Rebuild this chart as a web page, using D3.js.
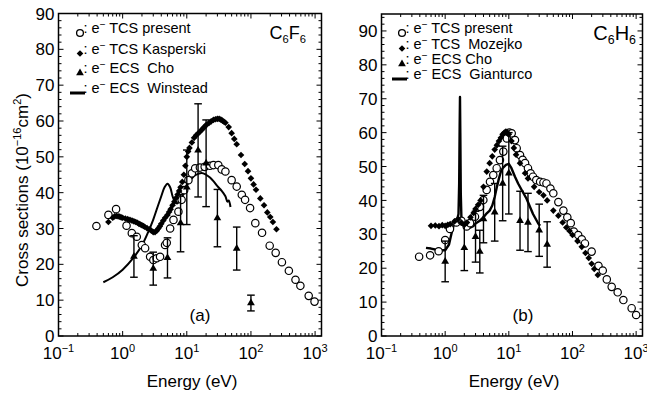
<!DOCTYPE html>
<html><head><meta charset="utf-8">
<script src="https://cdn.jsdelivr.net/npm/d3@7"></script>
<style>body{margin:0;background:#fff}svg{font-family:"Liberation Sans",Arial,Helvetica,sans-serif}text{white-space:pre}</style>
</head><body><svg id="c" width="647" height="394"></svg>
<script>
// ---------- C6F6 (panel a) ----------
const f6PresentE = [0.39,0.60,0.79,1.15,1.39,1.66,1.99,2.24,2.68,3.01,3.39,3.83,4.58,4.87,5.5,6.2,7.4,8.3,9.1,10.6,12,13.5,16,19,23,26,31,35,40,50,60,72,81,97,117,149,196,243,304,390,495,590,795,980];
const f6PresentY = [30.7,33.8,35.4,30.8,28.7,27.7,25.4,24.5,22.1,21.2,21.7,22.1,25.4,26.0,30.0,32.4,34.7,38.0,40.7,43.5,45.4,46.8,47.0,47.2,47.5,47.7,47.7,46.5,45.9,43.5,41.7,39.4,38.0,35.7,31.5,28.8,25.2,23.2,20.6,18.2,15.7,14.0,11.2,9.6];
const f6KasperskiE = [0.6,0.7,0.75,0.8,0.85,0.9,0.95,1.0,1.1,1.2,1.3,1.4,1.5,1.6,1.7,1.8,1.9,2.0,2.1,2.2,2.4,2.6,2.8,3.0,3.2,3.4,3.6,3.8,4.0,4.3,4.6,5.0,5.3,5.6,6.0,6.4,6.8,7.2,7.6,8.0,8.5,9.0,9.5,10,10.5,11,12,13,14,15,16,17,18,19,20,22,24,26,28,30,32,34,36,38,40,45,50,55,60,70,80,90,100,110,120,140,160,180,200,220,250];
const f6KasperskiY = [31.8,33.0,33.4,33.5,33.4,33.3,33.1,33.0,32.8,32.6,32.4,32.2,32.0,31.8,31.6,31.3,31.1,30.9,30.7,30.5,30.1,29.8,29.4,29.0,29.0,29.4,30.0,30.6,31.3,32.2,33.0,33.8,34.6,35.4,36.5,37.5,38.5,39.5,40.5,41.5,43.0,45.0,47.5,50.0,51.5,52.5,54.0,55.3,56.0,56.5,57.0,57.5,58.0,58.4,58.9,59.4,59.9,60.3,60.5,60.6,60.6,60.4,60.1,59.8,59.5,58.3,56.6,55.0,53.5,50.5,48.0,46.0,44.0,42.3,40.8,38.4,36.5,34.5,33.2,31.8,29.8];
const f6ChoE = [1.5,3,5,8,10,15,20,30,60,100];
const f6ChoY = [22.2,18.8,21.8,31.5,41.5,51.8,48.2,32.9,24.4,9.2];
const f6ChoErr = [5.8,4.6,5.6,8.0,10.4,13.0,12.1,8.0,6.0,2.2];
const f6WinsteadE = [0.5,0.7,1.0,1.5,2.0,2.5,3.0,3.5,4.0,4.5,5.0,5.5,6.0,6.5,7,8,9,10,12,14,17,20,23,26,30,35,40,43,45,48];
const f6WinsteadY = [15.0,16.4,18.5,22.0,25.3,29.0,32.5,36.0,39.0,41.5,42.5,41.5,39.0,37.5,37.0,38.0,40.0,42.0,44.0,45.0,45.5,45.0,44.2,43.2,41.8,40.5,39.0,37.5,37.8,36.0];

// ---------- C6H6 (panel b) ----------
const h6PresentE = [0.39,0.58,0.79,1.0,1.19,1.5,1.8,2.18,2.46,2.94,3.52,3.98,4.49,5.06,5.7,6.45,7.25,8.2,9.3,10.2,11.1,12.5,13.3,15,16.5,18,20,22,24,27,31,35,39,45,50,60,72,83,94,105,123,140,157,200,256,299,346,413,513,630,850,1000];
const h6PresentY = [23.4,23.8,25.0,28.3,31.6,33.5,34.0,32.3,33.3,35.2,38.1,40.1,43.1,45.5,47.5,49.5,51.9,54.4,58.3,60.0,59.8,57.8,55.4,53.4,52.0,51.0,49.5,48.0,47.0,46.0,45.5,45.3,45.0,43.5,42.1,39.5,37.0,35.0,33.3,30.8,29.8,28.5,27.3,24.9,20.7,19.3,16.7,14.5,12.9,10.6,8.2,6.2];
const h6MozejkoE = [0.6,0.7,0.8,0.9,1.0,1.1,1.2,1.4,1.6,1.8,2.0,2.2,2.5,2.8,3.0,3.3,3.6,4.0,4.5,5.0,5.5,6.0,6.5,7.0,7.5,8.0,8.5,9.0,9.5,10,11,12,13,15,18,20,25,30,35,40,50,60,70,80,90,100,120,140,160,180,200,220,250];
const h6MozejkoY = [32.5,32.6,32.4,32.7,32.5,32.8,33.0,33.8,34.5,33.5,32.8,33.5,35.0,36.3,37.5,38.7,40.0,44.0,48.5,51.0,53.0,55.0,56.3,57.5,58.5,59.5,60.0,60.3,60.0,59.5,57.5,55.5,53.5,51.0,48.0,46.5,44.0,42.5,41.5,40.0,37.0,35.5,33.5,32.0,31.0,29.8,28.0,26.3,24.5,23.0,21.3,19.8,18.0];
const h6ChoE = [1,2,3,3.5,4,6,8,10,15,20,30,40];
const h6ChoY = [22.0,26.0,29.3,24.9,34.5,36.5,45.0,48.0,34.0,33.5,31.2,27.0];
const h6ChoErr = [6.0,6.7,7.5,6.3,7.0,8.5,11.0,12.0,8.7,8.6,7.7,6.7];
const h6GianturcoE = [0.5,0.6,0.8,1.0,1.15,1.25,1.35,1.45,1.55,1.62,1.66,1.69,1.71,1.73,1.76,1.8,1.9,2.0,2.2,2.5,2.8,3.0,3.5,4.0,4.5,5.0,5.5,6.0,6.5,7.0,7.5,8.0,9.0,10,11,12.5,14,16,19,24,29,31];
const h6GianturcoY = [26.0,25.8,25.3,25.3,27.0,30.0,32.5,33.5,34.5,36.0,45.0,62.0,70.5,60.0,42.0,35.0,34.2,33.8,32.5,32.0,32.5,33.2,34.0,35.0,36.2,37.0,38.5,41.0,44.0,46.5,48.5,49.5,50.5,50.8,49.5,47.0,45.0,43.0,40.5,36.0,33.2,32.5];

// ---------- tick labels / texts ----------
const xTickExponents = [-1,0,1,2,3];
const yTicksA = [0,10,20,30,40,50,60,70,80,90];
const yTicksB = [0,10,20,30,40,50,60,70,80,90];
const legendA = ["TCS present","TCS Kasperski","ECS  Cho","ECS  Winstead"];
const legendB = ["TCS present","TCS  Mozejko","ECS Cho","ECS  Gianturco"];
const legendPrefixA = ["TCS","TCS","ECS","ECS"];

const svg = d3.select("#c");

function rich(t, parts, base, small, shift) {
  let cur = 0;
  parts.forEach(([s, k]) => {
    const target = k === "sup" ? -shift : (k === "sub" ? shift : 0);
    t.append("tspan").attr("dy", target - cur).attr("font-size", k === "n" ? base : small).text(s);
    cur = target;
  });
}

function zip(a, b, c) { return a.map((v, i) => c ? [v, b[i], c[i]] : [v, b[i]]); }

function panel(o) {
  const g = svg.append("g");
  const x = d3.scaleLog().domain([0.1, Math.pow(10, 3.1)]).range([o.x0, o.x1]);
  const y = d3.scaleLinear().domain([0, o.ymax]).range([336, o.y1]);
  const yb = 336, yt = o.y1;

  // ticks
  const majX = xTickExponents.map(e => Math.pow(10, e));
  const minX = [];
  majX.forEach(d => { for (let k = 2; k <= 9; k++) { const v = d * k; if (v < x.domain()[1]) minX.push(v); } });
  const tk = g.append("g").attr("stroke", "#000").attr("stroke-width", 1);
  majX.forEach(v => {
    tk.append("line").attr("x1", x(v)).attr("x2", x(v)).attr("y1", yb).attr("y2", yb - 5);
    tk.append("line").attr("x1", x(v)).attr("x2", x(v)).attr("y1", yt).attr("y2", yt + 5);
  });
  minX.forEach(v => {
    tk.append("line").attr("x1", x(v)).attr("x2", x(v)).attr("y1", yb).attr("y2", yb - 3);
    tk.append("line").attr("x1", x(v)).attr("x2", x(v)).attr("y1", yt).attr("y2", yt + 3);
  });
  for (let v = 0; v <= o.ymax; v += 2) {
    const L = v % 10 === 0 ? 5 : 3;
    tk.append("line").attr("x1", o.x0).attr("x2", o.x0 + L).attr("y1", y(v)).attr("y2", y(v));
    tk.append("line").attr("x1", o.x1).attr("x2", o.x1 - L).attr("y1", y(v)).attr("y2", y(v));
  }
  g.append("rect").attr("x", o.x0).attr("y", yt).attr("width", o.x1 - o.x0).attr("height", yb - yt)
    .attr("fill", "none").attr("stroke", "#000").attr("stroke-width", 1.5);

  // tick labels
  xTickExponents.forEach(e => {
    const t = g.append("text").attr("x", x(Math.pow(10, e))).attr("y", 359).attr("text-anchor", "middle").attr("font-size", 17);
    rich(t, [["10", "n"], [e < 0 ? "\u2212" + (-e) : String(e), "sup"]], 17, 11, 7);
  });
  o.yTicks.forEach(v => {
    g.append("text").attr("x", o.x0 - 4).attr("y", y(v)).attr("dy", "0.36em").attr("text-anchor", "end").attr("font-size", 17).text(v);
  });
  g.append("text").attr("x", (o.x0 + o.x1) / 2 + 2).attr("y", 387).attr("text-anchor", "middle").attr("font-size", 17).text("Energy (eV)");

  // theory line
  const line = d3.line().x(d => x(d[0])).y(d => y(d[1])).curve(o.curve);
  g.append("path").datum(zip(o.lineE, o.lineY)).attr("d", line).attr("fill", "none").attr("stroke", "#000").attr("stroke-width", o.lineW).attr("stroke-linejoin", "round");

  // present TCS circles
  g.append("g").selectAll("circle").data(zip(o.presE, o.presY)).join("circle")
    .attr("cx", d => x(d[0])).attr("cy", d => y(d[1])).attr("r", 3.7)
    .attr("fill", "#fff").attr("stroke", "#000").attr("stroke-width", 1.2);

  // other TCS diamonds
  const dia = d3.symbol(d3.symbolSquare, 22);
  g.append("g").selectAll("path").data(zip(o.diaE, o.diaY)).join("path")
    .attr("d", dia).attr("transform", d => `translate(${x(d[0])},${y(d[1])}) rotate(45)`).attr("fill", "#000");

  // ECS with error bars
  const eb = g.append("g").attr("stroke", "#000").attr("stroke-width", 1.4);
  zip(o.choE, o.choY, o.choErr).forEach(d => {
    const cx = x(d[0]);
    eb.append("line").attr("x1", cx).attr("x2", cx).attr("y1", y(d[1] - d[2])).attr("y2", y(d[1] + d[2]));
    eb.append("line").attr("x1", cx - 3.8).attr("x2", cx + 3.8).attr("y1", y(d[1] - d[2])).attr("y2", y(d[1] - d[2]));
    eb.append("line").attr("x1", cx - 3.8).attr("x2", cx + 3.8).attr("y1", y(d[1] + d[2])).attr("y2", y(d[1] + d[2]));
  });
  const tri = d3.symbol(d3.symbolTriangle, 26);
  g.append("g").selectAll("path").data(zip(o.choE, o.choY)).join("path")
    .attr("d", tri).attr("transform", d => `translate(${x(d[0])},${y(d[1])})`).attr("fill", "#000");

  // legend
  const lg = g.append("g");
  o.legend.forEach((lab, i) => {
    const ly = o.legRows[i];
    if (i === 0) lg.append("circle").attr("cx", o.legSym).attr("cy", ly).attr("r", 3.4).attr("fill", "#fff").attr("stroke", "#000").attr("stroke-width", 1.3);
    if (i === 1) lg.append("path").attr("d", dia).attr("transform", `translate(${o.legSym},${ly}) rotate(45)`);
    if (i === 2) lg.append("path").attr("d", tri).attr("transform", `translate(${o.legSym},${ly})`);
    if (i === 3) lg.append("line").attr("x1", o.legSym - 10).attr("x2", o.legSym + 5).attr("y1", ly).attr("y2", ly).attr("stroke", "#000").attr("stroke-width", 3);
    const t = lg.append("text").attr("x", o.legText).attr("y", ly).attr("dy", "0.36em").attr("font-size", 14.5);
    rich(t, [[": e", "n"], ["\u2212", "sup"], [" " + lab, "n"]], 14.5, 10, 5);
  });

  // molecule label
  const m = g.append("text").attr("x", o.molX).attr("y", o.molY).attr("text-anchor", "end").attr("font-size", o.molSize);
  rich(m, [["C", "n"], ["6", "sub"], [o.molEl, "n"], ["6", "sub"]], o.molSize, o.molSize * 0.62, 3.5);

  g.append("text").attr("x", o.tagX).attr("y", 321).attr("text-anchor", "middle").attr("font-size", 17).text(o.tag);
}

panel({
  x0: 58.5, x1: 321.5, y1: 13.5, ymax: 90, yTicks: yTicksA,
  presE: f6PresentE, presY: f6PresentY, diaE: f6KasperskiE, diaY: f6KasperskiY,
  choE: f6ChoE, choY: f6ChoY, choErr: f6ChoErr,
  lineE: f6WinsteadE, lineY: f6WinsteadY, lineW: 2, curve: d3.curveCatmullRom,
  legend: legendA, legRows: [33, 53.5, 73, 93], legSym: 80, legText: 83.5,
  molEl: "F", molX: 306, molY: 39, molSize: 18, tag: "(a)", tagX: 200
});
panel({
  x0: 381.5, x1: 642.5, y1: 14, ymax: 95, yTicks: yTicksB,
  presE: h6PresentE, presY: h6PresentY, diaE: h6MozejkoE, diaY: h6MozejkoY,
  choE: h6ChoE, choY: h6ChoY, choErr: h6ChoErr,
  lineE: h6GianturcoE, lineY: h6GianturcoY, lineW: 2.4, curve: d3.curveLinear,
  legend: legendB, legRows: [33, 48.5, 64, 79], legSym: 402, legText: 405.5,
  molEl: "H", molX: 636, molY: 40, molSize: 20, tag: "(b)", tagX: 523
});

// y axis title
const yt = svg.append("text").attr("transform", "translate(28,190) rotate(-90)").attr("text-anchor", "middle").attr("font-size", 17);
rich(yt, [["Cross sections (10", "n"], ["\u221216", "sup"], ["cm", "n"], ["2", "sup"], [")", "n"]], 17, 11, 7);
</script></body></html>
